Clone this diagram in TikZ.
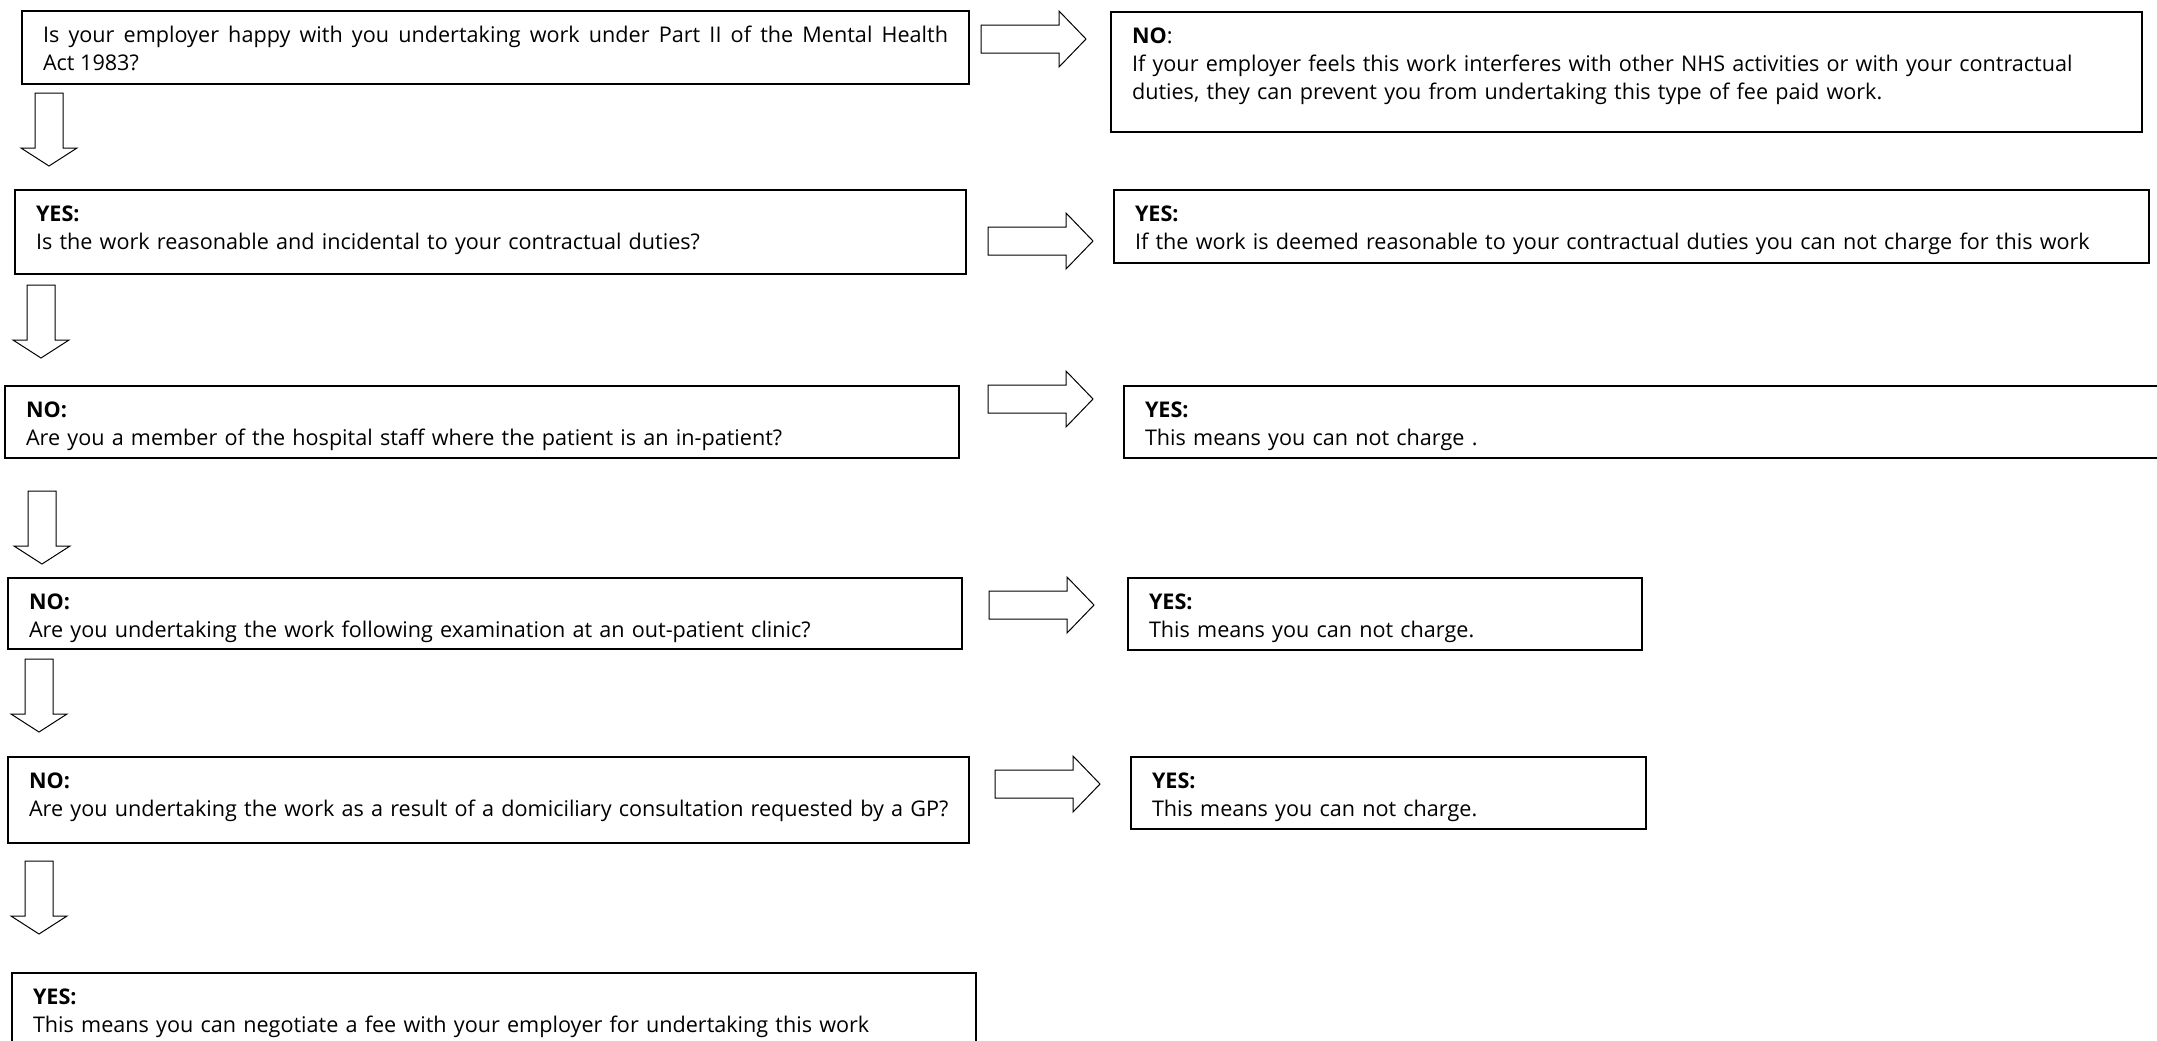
\documentclass[tikz,border=0pt]{standalone}
\usepackage{fontspec}
\setmainfont{Open Sans}

\tikzset{
  box/.style={draw, line width=1pt, anchor=north west, inner xsep=10.5pt, inner ysep=0pt,
    align=left, text height=15.5pt, font=\fontsize{10.8}{14}\selectfont},
  arrowline/.style={draw, line width=0.5pt},
  rarrow/.pic={\draw[arrowline] (0,-14) -- (78,-14) -- (78,-28) -- (105,0) -- (78,28) -- (78,14) -- (0,14) -- cycle;},
  darrow/.pic={\draw[arrowline] (-14,0) -- (14,0) -- (14,55) -- (28,55) -- (0,73) -- (-28,55) -- (-14,55) -- cycle;}
}

\begin{document}
\begin{tikzpicture}[x=0.5pt, y=-0.5pt]
\useasboundingbox (0,0) rectangle (2157,1040);
% questions (left column)
\node[box, align=justify, text width=452.5pt, text depth=21pt] (q1) at (21,10)
  {Is your employer happy with you undertaking work under Part II of the Mental Health\linebreak Act 1983?};
\node[box, text width=454.5pt, text depth=26.5pt] (q2) at (14,189)
  {\textbf{YES:}\\Is the work reasonable and incidental to your contractual duties?};
\node[box, text width=456pt, text depth=20.5pt] (q3) at (4,385)
  {\textbf{NO:}\\Are you a member of the hospital staff where the patient is an in-patient?};
\node[box, text width=456pt, text depth=20pt] (q4) at (7,577)
  {\textbf{NO:}\\Are you undertaking the work following examination at an out-patient clinic?};
\node[box, text width=459.5pt, text depth=27.5pt] (q5) at (7,756)
  {\textbf{NO:}\\\mbox{Are you undertaking the work as a result of a domiciliary consultation requested by a GP?}};
\node[box, text width=461pt, text depth=24.5pt] (q6) at (11,972)
  {\textbf{YES:}\\This means you can negotiate a fee with your employer for undertaking this work};
% answers (right column)
\node[box, text width=494.5pt, text depth=44.5pt] (r1) at (1110,11)
  {\textbf{NO}:\\If your employer feels this work interferes with other NHS activities or with your contractual\\duties, they can prevent you from undertaking this type of fee paid work.};
\node[box, text width=496.5pt, text depth=21pt] (r2) at (1113,189)
  {\textbf{YES:}\\If the work is deemed reasonable to your contractual duties you can not charge for this work};
\node[box, text width=529pt, text depth=20.5pt] (r3) at (1123,385)
  {\textbf{YES:}\\This means you can not charge .};
\node[box, text width=236pt, text depth=20.5pt] (r4) at (1127,577)
  {\textbf{YES:}\\This means you can not charge.};
\node[box, text width=236.5pt, text depth=20.5pt] (r5) at (1130,756)
  {\textbf{YES:}\\This means you can not charge.};
% block arrows
\pic (ra1) at (981,39) {rarrow};
\pic (ra2) at (988,241) {rarrow};
\pic (ra3) at (988,399) {rarrow};
\pic (ra4) at (989,605) {rarrow};
\pic (ra5) at (995,784) {rarrow};
\pic (da1) at (49,93) {darrow};
\pic (da2) at (41,285) {darrow};
\pic (da3) at (42,491) {darrow};
\pic (da4) at (39,659) {darrow};
\pic (da5) at (39,861) {darrow};
\end{tikzpicture}
\end{document}
